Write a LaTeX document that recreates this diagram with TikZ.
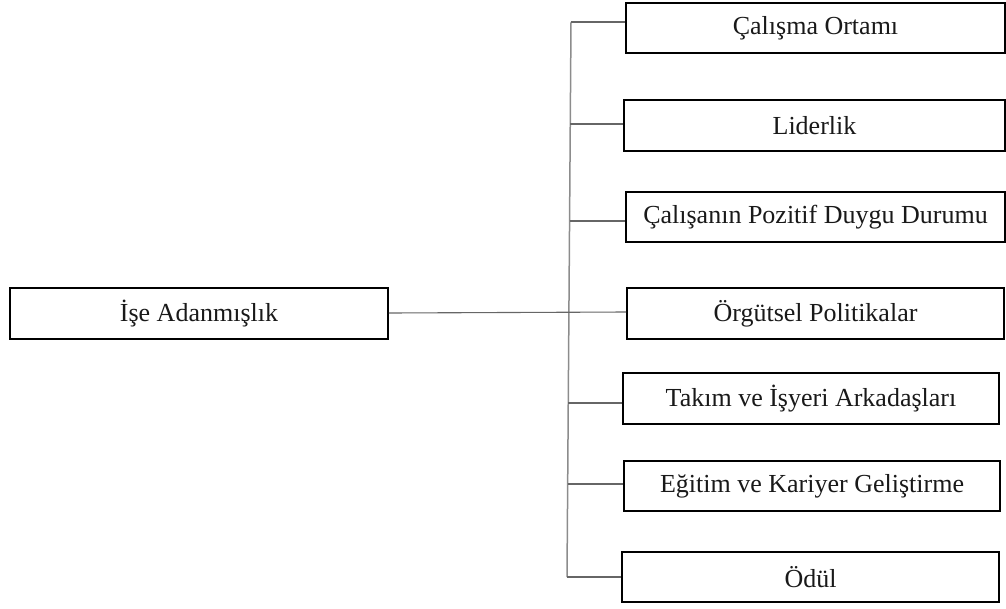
\documentclass[tikz,border=0pt]{standalone}
\usepackage{fontspec}
\setmainfont{Liberation Serif}
\begin{document}
\begin{tikzpicture}[x=1pt,y=-1pt,
  box/.style={draw=black,line width=1.6pt,fill=white,inner sep=0pt,
    font=\fontsize{26}{30}\selectfont,text=black!90},
  conn/.style={draw=black!60,line width=1.1pt},
  spine/.style={draw=black!45,line width=1.5pt}]
\useasboundingbox (0,0) rectangle (1006,608);
\node[box,minimum width=379pt,minimum height=50pt] (n1) at (815.5,28) {Çalışma Ortamı};
\node[box,minimum width=381pt,minimum height=51pt] (n2) at (814.5,125.5) {Liderlik};
\node[box,minimum width=379pt,minimum height=50pt] (n3) at (815.5,217) {Çalışanın Pozitif Duygu Durumu};
\node[box,minimum width=377pt,minimum height=51pt] (n4) at (815.5,313.5) {Örgütsel Politikalar};
\node[box,minimum width=376pt,minimum height=51pt] (n5) at (811,398.5) {Takım ve İşyeri Arkadaşları};
\node[box,minimum width=376pt,minimum height=50pt] (n6) at (812,486) {Eğitim ve Kariyer Geliştirme};
\node[box,minimum width=377pt,minimum height=50pt] (n7) at (810.5,577) {Ödül};
\node[box,minimum width=378pt,minimum height=51pt] (root) at (199,313.5) {İşe Adanmışlık};
\coordinate (s1) at (571,22);
\coordinate (s2) at (570.3,124);
\coordinate (s3) at (569.6,221);
\coordinate (s5) at (568.3,403);
\coordinate (s6) at (567.7,484);
\coordinate (s7) at (567,577);
\draw[spine] (s1) -- (s7);
\draw[conn] (s1) -- (s1 -| n1.west);
\draw[conn] (s2) -- (s2 -| n2.west);
\draw[conn] (s3) -- (s3 -| n3.west);
\draw[conn] (root.east |- 0,313) -- (n4.west |- 0,312);
\draw[conn] (s5) -- (s5 -| n5.west);
\draw[conn] (s6) -- (s6 -| n6.west);
\draw[conn] (s7) -- (s7 -| n7.west);
\end{tikzpicture}
\end{document}
